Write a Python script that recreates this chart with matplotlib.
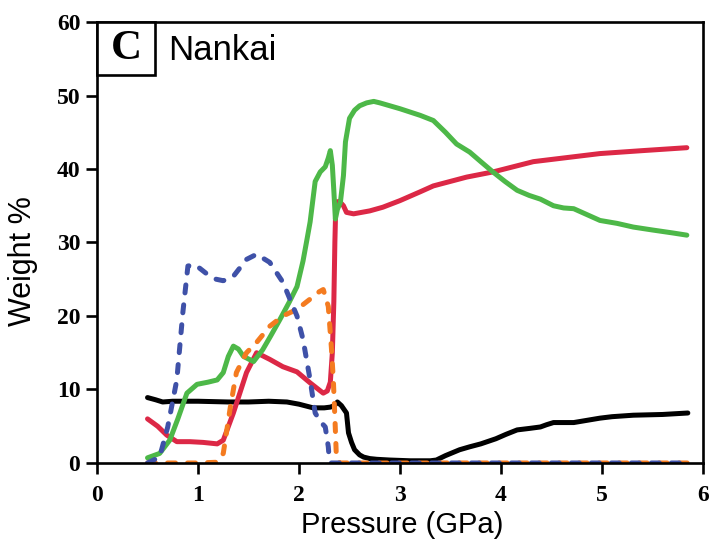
import matplotlib
matplotlib.use("Agg")
import matplotlib.pyplot as plt
from matplotlib.patches import Rectangle

# ---- data (Pressure GPa, Weight %) ----
p_black = [0.50, 0.58, 0.65, 0.75, 1.00, 1.30, 1.50, 1.70, 1.88, 2.00, 2.14, 2.25, 2.31, 2.35, 2.38,
           2.42, 2.47, 2.49, 2.52, 2.55, 2.60, 2.64, 2.70, 2.77, 2.90, 3.10, 3.30, 3.36, 3.45, 3.59,
           3.69, 3.80, 3.95, 4.05, 4.16, 4.28, 4.39, 4.45, 4.52, 4.62, 4.72, 4.85, 4.98, 5.10, 5.31,
           5.60, 5.85]
w_black = [8.9, 8.6, 8.3, 8.4, 8.4, 8.3, 8.3, 8.4, 8.3, 8.0, 7.5, 7.5, 7.6, 7.8, 8.3,
           7.8, 6.8, 4.1, 2.8, 1.8, 1.1, 0.8, 0.6, 0.5, 0.4, 0.3, 0.3, 0.4, 1.0, 1.8,
           2.2, 2.6, 3.3, 3.9, 4.5, 4.7, 4.9, 5.2, 5.5, 5.5, 5.5, 5.8, 6.1, 6.3, 6.5,
           6.6, 6.8]

p_red = [0.50, 0.60, 0.69, 0.79, 0.92, 1.05, 1.19, 1.25, 1.35, 1.48, 1.58, 1.71, 1.84, 1.98, 2.11,
         2.24, 2.28, 2.31, 2.33, 2.345, 2.355, 2.365, 2.40, 2.44, 2.47, 2.54, 2.70, 2.83, 3.00, 3.20,
         3.33, 3.66, 3.92, 4.32, 4.98, 5.40, 5.84]
w_red = [6.0, 5.0, 3.8, 2.9, 2.9, 2.8, 2.6, 3.1, 6.8, 12.3, 15.0, 14.1, 13.1, 12.4, 10.9,
         9.5, 9.8, 11.0, 15.0, 22.0, 30.0, 35.5, 35.6, 35.0, 34.1, 33.9, 34.3, 34.8, 35.7, 36.9,
         37.7, 38.9, 39.6, 41.0, 42.1, 42.5, 42.9]

p_green = [0.50, 0.62, 0.72, 0.80, 0.89, 0.99, 1.10, 1.19, 1.25, 1.30, 1.35, 1.40, 1.45, 1.55, 1.64,
           1.72, 1.81, 1.90, 1.98, 2.04, 2.08, 2.11, 2.16, 2.21, 2.26, 2.29, 2.31, 2.33, 2.345, 2.36,
           2.38, 2.41, 2.44, 2.46, 2.50, 2.55, 2.60, 2.67, 2.74, 2.80, 2.90, 3.00, 3.20, 3.33, 3.45,
           3.56, 3.69, 3.80, 3.92, 4.04, 4.16, 4.28, 4.39, 4.52, 4.62, 4.72, 4.85, 4.98, 5.15, 5.31,
           5.50, 5.70, 5.84]
w_green = [0.7, 1.3, 3.1, 6.0, 9.5, 10.7, 11.0, 11.3, 12.3, 14.5, 15.9, 15.5, 14.5, 13.8, 15.4,
           17.3, 19.5, 21.8, 24.0, 27.5, 30.5, 32.8, 38.3, 39.6, 40.3, 41.5, 42.5, 40.5, 37.0, 33.2,
           34.5, 35.5, 39.1, 43.7, 46.9, 48.0, 48.6, 49.0, 49.2, 49.0, 48.6, 48.2, 47.3, 46.6, 45.0,
           43.4, 42.3, 41.0, 39.6, 38.3, 37.1, 36.4, 35.9, 35.0, 34.7, 34.6, 33.8, 33.0, 32.6, 32.1,
           31.7, 31.3, 31.0]

p_orange = [0.50, 0.80, 1.00, 1.19, 1.25, 1.32, 1.38, 1.48, 1.58, 1.71, 1.84, 1.98, 2.11, 2.20,
            2.24, 2.29, 2.32, 2.34, 2.36, 2.37, 2.40, 5.85]
w_orange = [0.0, 0.0, 0.0, 0.1, 1.3, 7.6, 12.3, 15.0, 16.4, 18.6, 20.0, 20.9, 22.3, 23.3,
            23.6, 21.3, 15.8, 11.3, 4.5, 0.8, 0.0, 0.0]

p_blue = [0.50, 0.62, 0.70, 0.79, 0.85, 0.90, 0.97, 1.09, 1.18, 1.25, 1.35, 1.48, 1.58, 1.71,
          1.84, 1.98, 2.04, 2.11, 2.16, 2.22, 2.26, 2.29, 2.30, 2.32, 2.35, 5.85]
w_blue = [0.0, 0.8, 4.9, 11.3, 20.5, 26.8, 27.0, 25.7, 25.0, 24.8, 25.4, 27.7, 28.4, 27.3,
          24.6, 20.0, 16.8, 11.3, 6.8, 5.5, 4.9, 2.2, 0.4, 0.0, 0.0, 0.0]

x_ticks = [0, 1, 2, 3, 4, 5, 6]
y_ticks = [0, 10, 20, 30, 40, 50, 60]

# ---- figure ----
fig = plt.figure(figsize=(7.15, 5.45), dpi=100)
ax = fig.add_axes([0.1357, 0.1505, 0.8475, 0.8091])

lw = 3.6
dash = (0, (1.6, 2.4))
ax.plot(p_black, w_black, color='black', lw=lw, solid_capstyle='round', solid_joinstyle='round', zorder=2)
ax.plot(p_red, w_red, color='#DC2846', lw=lw, solid_capstyle='round', solid_joinstyle='round', zorder=3)
ax.plot(p_green, w_green, color='#4DB848', lw=lw, solid_capstyle='round', solid_joinstyle='round', zorder=4)
ax.plot(p_orange, w_orange, color='#F47B20', lw=lw, linestyle=dash,
        dash_capstyle='round', dash_joinstyle='round', zorder=5)
ax.plot(p_blue, w_blue, color='#3F51A8', lw=lw, linestyle=dash,
        dash_capstyle='round', dash_joinstyle='round', zorder=6)

ax.set_xlim(0, 6)
ax.set_ylim(0, 60)
ax.set_xticks(x_ticks)
ax.set_yticks(y_ticks)

for s in ax.spines.values():
    s.set_linewidth(1.9)
    s.set_zorder(10)
ax.tick_params(direction='out', length=8, width=1.9)
ax.tick_params(axis='x', pad=8)
ax.tick_params(axis='y', pad=4)

tick_font = dict(family='Liberation Serif', weight='bold', size=17)
ax.set_xticklabels([str(t) for t in x_ticks], fontdict=tick_font)
ax.set_yticklabels([str(t) for t in y_ticks], fontdict=tick_font)

ax.set_xlabel('Pressure (GPa)', family='Liberation Sans', size=21)
ax.set_ylabel('Weight %', family='Liberation Sans', size=22)
ax.xaxis.set_label_coords(0.503, -0.108)
ax.yaxis.set_label_coords(-0.097, 0.458)

# panel label box
ax.add_patch(Rectangle((0, 0.88), 0.0957, 0.12, transform=ax.transAxes,
                       facecolor='white', edgecolor='black', lw=1.9, zorder=11, clip_on=False))
ax.text(0.048, 0.938, 'C', transform=ax.transAxes, ha='center', va='center',
        family='Liberation Serif', weight='bold', size=31, zorder=12)
ax.text(0.117, 0.936, 'Nankai', transform=ax.transAxes, ha='left', va='center',
        family='Liberation Sans', size=25, zorder=12)

fig.savefig('out.png', dpi=100)
